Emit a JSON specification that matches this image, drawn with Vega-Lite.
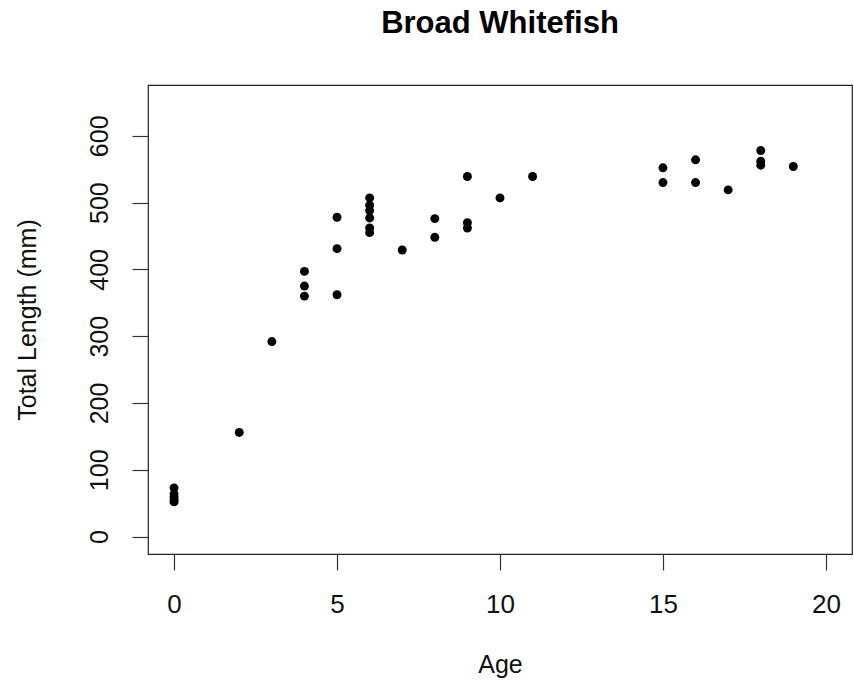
{
  "$schema": "https://vega.github.io/schema/vega-lite/v6.json",
  "width": 704,
  "height": 469,
  "autosize": {"type": "none"},
  "padding": {"left": 148, "top": 85, "right": 2, "bottom": 133},
  "background": "white",
  "title": {
    "text": "Broad Whitefish",
    "font": "Liberation Sans",
    "fontSize": 31,
    "fontWeight": "bold",
    "color": "black",
    "anchor": "middle",
    "baseline": "alphabetic",
    "offset": 21
  },
  "config": {
    "view": {"stroke": "#222", "strokeWidth": 1.2},
    "axis": {
      "grid": false,
      "domain": false,
      "tickColor": "#333",
      "tickSize": 16,
      "tickWidth": 1.2,
      "labelFont": "Liberation Sans",
      "labelFontSize": 25,
      "labelColor": "#111",
      "titleFont": "Liberation Sans",
      "titleFontSize": 25,
      "titleFontWeight": "normal",
      "titleColor": "#111"
    }
  },
  "data": {
    "values": [
      {"Age": 0, "Length": 73},
      {"Age": 0, "Length": 64},
      {"Age": 0, "Length": 59},
      {"Age": 0, "Length": 55},
      {"Age": 0, "Length": 52},
      {"Age": 2, "Length": 156},
      {"Age": 3, "Length": 292},
      {"Age": 4, "Length": 397},
      {"Age": 4, "Length": 375},
      {"Age": 4, "Length": 360},
      {"Age": 5, "Length": 478},
      {"Age": 5, "Length": 431},
      {"Age": 5, "Length": 362},
      {"Age": 6, "Length": 507},
      {"Age": 6, "Length": 496},
      {"Age": 6, "Length": 488},
      {"Age": 6, "Length": 477},
      {"Age": 6, "Length": 462},
      {"Age": 6, "Length": 455},
      {"Age": 7, "Length": 429},
      {"Age": 8, "Length": 476},
      {"Age": 8, "Length": 448},
      {"Age": 9, "Length": 539},
      {"Age": 9, "Length": 470},
      {"Age": 9, "Length": 462},
      {"Age": 10, "Length": 507},
      {"Age": 11, "Length": 539},
      {"Age": 15, "Length": 552},
      {"Age": 15, "Length": 530},
      {"Age": 16, "Length": 564},
      {"Age": 16, "Length": 530},
      {"Age": 17, "Length": 519},
      {"Age": 18, "Length": 578},
      {"Age": 18, "Length": 562},
      {"Age": 18, "Length": 556},
      {"Age": 19, "Length": 554}
    ]
  },
  "mark": {"type": "point", "filled": true, "shape": "circle", "size": 80, "color": "black", "opacity": 1},
  "encoding": {
    "x": {
      "field": "Age",
      "type": "quantitative",
      "scale": {"domain": [-0.8, 20.8], "nice": false, "zero": false},
      "axis": {
        "values": [0, 5, 10, 15, 20],
        "title": "Age",
        "labelFontSize": 26,
        "labelBaseline": "alphabetic",
        "labelPadding": 42,
        "titleBaseline": "alphabetic",
        "titleX": 352,
        "titleY": 118,
        "titleAnchor": "middle",
        "titleAlign": "center"
      }
    },
    "y": {
      "field": "Length",
      "type": "quantitative",
      "scale": {"domain": [-26, 676], "nice": false, "zero": false},
      "axis": {
        "values": [0, 100, 200, 300, 400, 500, 600],
        "title": "Total Length (mm)",
        "labelAngle": -90,
        "labelAlign": "center",
        "labelBaseline": "alphabetic",
        "labelPadding": 25,
        "titleAngle": -90,
        "titleBaseline": "middle",
        "titleAlign": "center",
        "titleX": -121,
        "titleY": 234.5
      }
    }
  }
}
